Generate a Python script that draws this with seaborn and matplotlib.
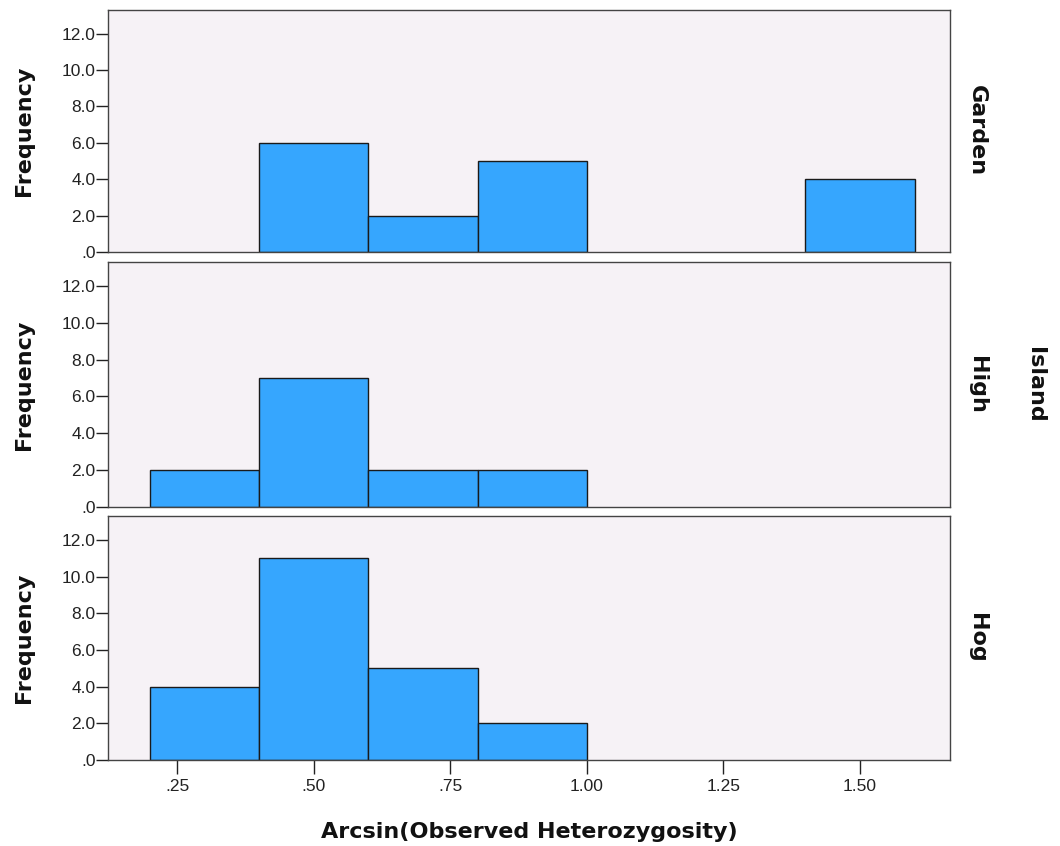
import numpy as np
import pandas as pd
import matplotlib
matplotlib.use("Agg")
import matplotlib.pyplot as plt
from matplotlib.ticker import FuncFormatter
import seaborn as sns

# Histogram counts per island, bins of width 0.2 starting at 0.2
bin_left = [0.2, 0.4, 0.6, 0.8, 1.0, 1.2, 1.4]
islands = ["Garden", "High", "Hog"]
garden_counts = [0, 6, 2, 5, 0, 0, 4]
high_counts = [2, 7, 2, 2, 0, 0, 0]
hog_counts = [4, 11, 5, 2, 0, 0, 0]
x_ticks = [0.25, 0.50, 0.75, 1.00, 1.25, 1.50]
x_tick_labels = [".25", ".50", ".75", "1.00", "1.25", "1.50"]
y_ticks = [0, 2, 4, 6, 8, 10, 12]

bin_width = 0.2
rows = []
for name, counts in zip(islands, [garden_counts, high_counts, hog_counts]):
    for left, c in zip(bin_left, counts):
        rows.append({"Island": name, "x": left + bin_width / 2, "count": c})
df = pd.DataFrame(rows)

sns.set_style("white")
plt.rcParams["font.family"] = ["Liberation Sans", "DejaVu Sans"]

fig = plt.figure(figsize=(10.6, 8.46), dpi=100)
W, H = 1060, 846
left_px, right_px = 108, 950
panels_px = [(10, 252), (262, 507), (516, 760)]

bar_color = "#36A6FE"
bg_color = "#F6F2F6"
spine_color = "#444444"
label_font = dict(family="DejaVu Sans", fontsize=16, fontweight="bold", color="#111111")

axes = []
for i, (name, (top, bottom)) in enumerate(zip(islands, panels_px)):
    ax = fig.add_axes([left_px / W, 1 - bottom / H, (right_px - left_px) / W, (bottom - top) / H])
    sub = df[df["Island"] == name]
    sns.histplot(data=sub, x="x", weights="count", binwidth=bin_width,
                 binrange=(bin_left[0], bin_left[-1] + bin_width),
                 color=bar_color, alpha=1.0, edgecolor="#1a1a1a", linewidth=1.0,
                 ax=ax)
    # empty bins leave a flat outline along the baseline; hide those
    for p in ax.patches:
        if p.get_height() == 0:
            p.set_visible(False)
    ax.set_facecolor(bg_color)
    ax.set_xlim(0.123, 1.665)
    ax.set_ylim(0, 13.3)
    ax.set_yticks(y_ticks)
    ax.yaxis.set_major_formatter(FuncFormatter(
        lambda v, p: ".0" if v == 0 else f"{v:.1f}"))
    ax.tick_params(axis="y", which="major", direction="out", length=9, width=1,
                   color="#222222", labelsize=12.5, labelcolor="#222222", pad=0, left=True)
    ax.set_ylabel("Frequency", labelpad=20, **label_font)
    for s in ax.spines.values():
        s.set_color(spine_color)
        s.set_linewidth(1.0)
    ax.text(1.032, 0.5, name, transform=ax.transAxes, rotation=-90,
            ha="center", va="center", **label_font)
    if i < 2:
        ax.set_xticks([])
        ax.set_xlabel("")
    else:
        ax.set_xticks(x_ticks)
        ax.set_xticklabels(x_tick_labels)
        ax.tick_params(axis="x", which="major", direction="out", length=10, width=1,
                       color="#222222", labelsize=12.5, labelcolor="#222222", pad=4, bottom=True)
        ax.set_xlabel("Arcsin(Observed Heterozygosity)", labelpad=20, **label_font)
    axes.append(ax)

fig.text(1035 / W, 1 - 385 / H, "Island", rotation=-90, ha="center", va="center",
         **label_font)

fig.savefig("out.png", dpi=100, facecolor="white")
